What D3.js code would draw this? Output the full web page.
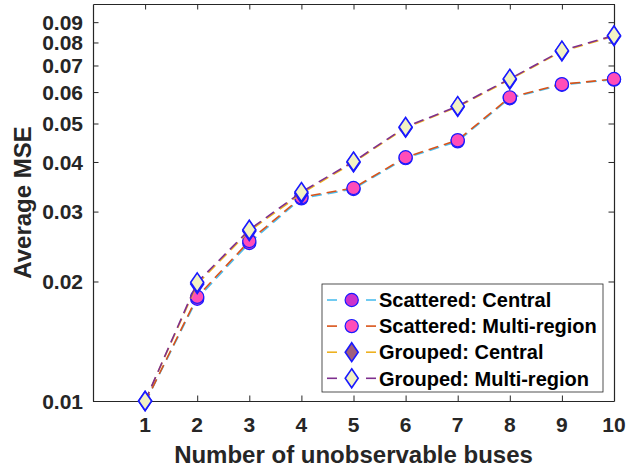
<!DOCTYPE html>
<html>
<head>
<meta charset="utf-8">
<script src="https://cdn.jsdelivr.net/npm/d3@7"></script>
<style>
  html, body { margin: 0; padding: 0; background: #fff; }
  svg { display: block; font-family: "Liberation Sans", Arial, Helvetica, sans-serif; }
</style>
</head>
<body>
<svg id="chart" width="626" height="472"></svg>
<script>
// Number of unobservable buses
const buses = [1, 2, 3, 4, 5, 6, 7, 8, 9, 10];

// Average MSE per configuration
const scatteredCentral     = [0.0099, 0.0181, 0.0250, 0.0324, 0.0342, 0.0409, 0.0451, 0.0579, 0.0626, 0.0645];
const scatteredMultiRegion = [0.0099, 0.0183, 0.0253, 0.0326, 0.0344, 0.0411, 0.0454, 0.0582, 0.0628, 0.0647];
const groupedCentral       = [0.0100, 0.0197, 0.0268, 0.0333, 0.0399, 0.0488, 0.0551, 0.0645, 0.0760, 0.0830];
const groupedMultiRegion   = [0.0100, 0.0199, 0.0270, 0.0336, 0.0401, 0.0490, 0.0553, 0.0648, 0.0763, 0.0833];

const seriesNames = ["Scattered: Central", "Scattered: Multi-region", "Grouped: Central", "Grouped: Multi-region"];
const xTicks = [1, 2, 3, 4, 5, 6, 7, 8, 9, 10];
const yTicks = [0.01, 0.02, 0.03, 0.04, 0.05, 0.06, 0.07, 0.08, 0.09];

const series = [
  { name: seriesNames[0], values: scatteredCentral,     line: "#4DBEEE", shape: "circle",  fill: "#CC33CC" },
  { name: seriesNames[1], values: scatteredMultiRegion, line: "#D95319", shape: "circle",  fill: "#FF4DB8" },
  { name: seriesNames[2], values: groupedCentral,       line: "#EDB120", shape: "diamond", fill: "#A0607A" },
  { name: seriesNames[3], values: groupedMultiRegion,   line: "#7E2F8E", shape: "diamond", fill: "#F2F2C4" }
];

const plot = { left: 93, right: 614, top: 4, bottom: 401 };
const axisColor = "#262626";
const markerStroke = "#1A1AFF";

const x = d3.scaleLinear().domain([0, 10]).range([plot.left, plot.right]);
const y = d3.scaleLog().domain([0.01, 0.1]).range([plot.bottom, plot.top]);

const svg = d3.select("#chart");

svg.append("defs").append("clipPath").attr("id", "plot-clip")
  .append("rect")
  .attr("x", plot.left).attr("y", plot.top)
  .attr("width", plot.right - plot.left).attr("height", plot.bottom - plot.top);

// Marker path generators
function markerPath(shape) {
  if (shape === "circle") {
    const r = 6.6;
    return `M${-r},0A${r},${r} 0 1,0 ${r},0A${r},${r} 0 1,0 ${-r},0Z`;
  }
  const w = 6.5, h = 9.5;
  return `M0,${-h}L${w},0L0,${h}L${-w},0Z`;
}

// Axis frame with inward ticks on all four sides
const tickLen = 5.5;
const bottomAxis = d3.axisBottom(x).tickValues(xTicks).tickSizeInner(-tickLen).tickSizeOuter(0).tickFormat("");
const topAxis = d3.axisTop(x).tickValues(xTicks).tickSizeInner(-tickLen).tickSizeOuter(0).tickFormat("");
const leftAxis = d3.axisLeft(y).tickValues(yTicks).tickSizeInner(-tickLen).tickSizeOuter(0).tickFormat("");
const rightAxis = d3.axisRight(y).tickValues(yTicks).tickSizeInner(-tickLen).tickSizeOuter(0).tickFormat("");

function styleAxis(g) {
  g.selectAll("path.domain").attr("stroke", axisColor).attr("stroke-width", 1.2);
  g.selectAll(".tick line").attr("stroke", axisColor).attr("stroke-width", 1);
}
svg.append("g").attr("transform", `translate(0,${plot.bottom})`).call(bottomAxis).call(styleAxis);
svg.append("g").attr("transform", `translate(0,${plot.top})`).call(topAxis).call(styleAxis);
svg.append("g").attr("transform", `translate(${plot.left},0)`).call(leftAxis).call(styleAxis);
svg.append("g").attr("transform", `translate(${plot.right},0)`).call(rightAxis).call(styleAxis);

// Tick labels
svg.append("g").selectAll("text").data(xTicks).join("text")
  .attr("x", d => x(d)).attr("y", 432)
  .attr("text-anchor", "middle")
  .attr("font-size", 21).attr("font-weight", "bold").attr("fill", axisColor)
  .text(d => d);

svg.append("g").selectAll("text").data(yTicks).join("text")
  .attr("x", 83).attr("y", d => y(d)).attr("dy", "0.36em")
  .attr("text-anchor", "end")
  .attr("font-size", 21).attr("font-weight", "bold").attr("fill", axisColor)
  .text(d => d3.format(".2f")(d));

// Axis titles
svg.append("text")
  .attr("x", (plot.left + plot.right) / 2).attr("y", 463)
  .attr("text-anchor", "middle")
  .attr("font-size", 24).attr("font-weight", "bold").attr("fill", axisColor)
  .text("Number of unobservable buses");

svg.append("text")
  .attr("transform", `translate(31,${(plot.top + plot.bottom) / 2}) rotate(-90)`)
  .attr("text-anchor", "middle")
  .attr("font-size", 24).attr("font-weight", "bold").attr("fill", axisColor)
  .text("Average MSE");

// Series: dashed lines (clipped to the axes) and markers inside the limits
const line = d3.line().x((d, i) => x(buses[i])).y(d => y(d));
const [yMin, yMax] = y.domain();
const plotArea = svg.append("g");

series.forEach(s => {
  const g = plotArea.append("g");
  g.append("path")
    .attr("clip-path", "url(#plot-clip)")
    .attr("d", line(s.values))
    .attr("fill", "none")
    .attr("stroke", s.line)
    .attr("stroke-width", 1.6)
    .attr("stroke-dasharray", "10,6");
  g.selectAll("path.marker")
    .data(s.values.map((v, i) => ({ bus: buses[i], v })).filter(d => d.v >= yMin && d.v <= yMax))
    .join("path")
    .attr("class", "marker")
    .attr("transform", d => `translate(${x(d.bus)},${y(d.v)})`)
    .attr("d", markerPath(s.shape))
    .attr("fill", s.fill)
    .attr("stroke", markerStroke)
    .attr("stroke-width", s.shape === "circle" ? 1.2 : 1.6);
});

// Legend
const legend = { x: 322, y: 284, w: 281, h: 108, rowStart: 300, rowStep: 26.1 };
const lg = svg.append("g");
lg.append("rect")
  .attr("x", legend.x).attr("y", legend.y)
  .attr("width", legend.w).attr("height", legend.h)
  .attr("fill", "#fff").attr("stroke", axisColor).attr("stroke-width", 0.8);

series.forEach((s, i) => {
  const cy = legend.rowStart + i * legend.rowStep;
  const row = lg.append("g");
  [[327, 337], [366, 376]].forEach(([a, b]) => {
    row.append("line")
      .attr("x1", a).attr("x2", b).attr("y1", cy).attr("y2", cy)
      .attr("stroke", s.line).attr("stroke-width", 1.6);
  });
  row.append("path")
    .attr("transform", `translate(351.7,${cy})`)
    .attr("d", markerPath(s.shape))
    .attr("fill", s.fill)
    .attr("stroke", markerStroke)
    .attr("stroke-width", s.shape === "circle" ? 1.2 : 1.6);
  row.append("text")
    .attr("x", 379).attr("y", cy).attr("dy", "0.36em")
    .attr("font-size", 20).attr("font-weight", "bold").attr("fill", "#000")
    .text(s.name);
});
</script>
</body>
</html>
